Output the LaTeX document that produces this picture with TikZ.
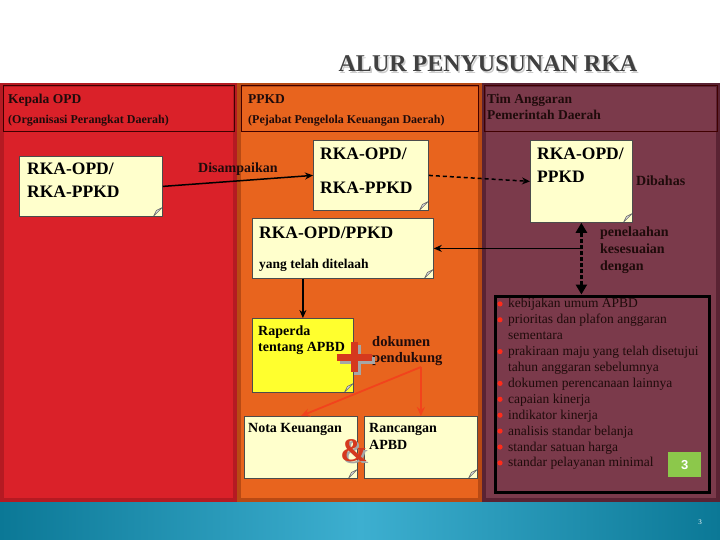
\documentclass[tikz,border=0pt]{standalone}
\usepackage{fontspec}
\setmainfont{Liberation Serif}
\newfontfamily\angkafont{Liberation Sans}
\usetikzlibrary{positioning, arrows.meta, calc}
\newcommand\ukuran[2]{\fontsize{#1}{#2}\selectfont}
\definecolor{merah}{HTML}{DA2129}
\definecolor{merahtua}{HTML}{B51A22}
\definecolor{oranye}{HTML}{E8641E}
\definecolor{oranyetua}{HTML}{B84A14}
\definecolor{marun}{HTML}{7B3A4B}
\definecolor{maruntua}{HTML}{5A2333}
\definecolor{kertas}{HTML}{FFFFCC}
\definecolor{kuning}{HTML}{FFFF2E}
\definecolor{gelap}{HTML}{1F0B0B}
\definecolor{abu}{HTML}{404040}
\definecolor{merahpanah}{HTML}{F2431C}
\definecolor{merahtanda}{HTML}{D5391E}
\definecolor{titikmerah}{HTML}{FF2B1A}
\definecolor{hijau}{HTML}{8CC84B}
\definecolor{biru}{HTML}{0B7896}
\definecolor{birumuda}{HTML}{3DAFD0}
\tikzset{
  kolom/.style={line width=4pt},
  kepala/.style={draw=black!75!red, line width=0.8pt},
  catatan/.style={draw=black!70, line width=0.8pt, fill=kertas, anchor=north west, inner sep=0pt,
    path picture={\filldraw[draw=black!60, fill=black!12, line width=0.5pt]
      ([xshift=-9pt]path picture bounding box.south east) --
      ([yshift=9pt]path picture bounding box.south east) --
      ([xshift=-6pt,yshift=6pt]path picture bounding box.south east) -- cycle;}},
  tulisan/.style={anchor=north west, align=left, inner sep=0pt, font=\bfseries\ukuran{17.5}{23}},
  judulkol/.style={anchor=base west, inner sep=0pt, text=gelap, font=\bfseries\ukuran{13.5}{16}},
  ketkol/.style={judulkol, font=\bfseries\ukuran{12}{14}},
  label/.style={anchor=north west, align=left, inner sep=0pt, text=gelap, font=\bfseries\ukuran{14}{17}},
  butir/.style={anchor=base west, inner sep=0pt, text=gelap, font=\ukuran{13.5}{16}},
  titik/.style={fill=titikmerah},
  wire/.style={-{Stealth[length=8pt,width=7pt]}, line width=1.5pt},
  putus/.style={wire, dash pattern=on 4pt off 3pt},
  telaahwire/.style={{Triangle[length=10pt,width=11pt]}-{Triangle[length=10pt,width=11pt]}, line width=3pt, dash pattern=on 4pt off 2pt},
  panah/.style={-{Stealth[length=9pt,width=8pt]}, line width=1.8pt, draw=merahpanah},
  judul/.style={anchor=base, inner sep=0pt, font=\bfseries\ukuran{24}{28}}
}

\begin{document}
\begin{tikzpicture}[x=1pt, y=-1pt]
  \useasboundingbox (0,0) rectangle (720,540);
  \fill[white] (0,0) rectangle (720,540);
  \node[judul, text=black!20] (judulbayang) at (489.5,73.5) {ALUR PENYUSUNAN RKA};
  \node[judul, text=abu] (judul) at (488,72) {ALUR PENYUSUNAN RKA};

  % tiga kolom
  \filldraw[kolom, fill=merah, draw=merahtua] (2,85) rectangle (235,500);
  \filldraw[kolom, fill=oranye, draw=oranyetua] (239,85) rectangle (480,500);
  \filldraw[kolom, fill=marun, draw=maruntua] (484,85) rectangle (718,500);
  \draw[kepala] (3,85) rectangle (234,131);
  \draw[kepala] (241,85) rectangle (478,131);
  \draw[kepala] (484,85) rectangle (717,131);
  \shade[left color=biru, right color=biru, middle color=birumuda] (0,502) rectangle (720,540);
  \node[font=\ukuran{7}{8}, text=white] (halaman) at (700,522) {3};

  \node[judulkol] (kepalaopd) at (8,104) {Kepala OPD};
  \node[ketkol] (opd) at (8,124) {(Organisasi Perangkat Daerah)};
  \node[judulkol] (ppkd) at (248,104) {PPKD};
  \node[ketkol] (pejabat) at (248,124) {(Pejabat Pengelola Keuangan Daerah)};
  \node[label, font=\bfseries\ukuran{13.5}{16}] (tapd) at (487,94) {Tim Anggaran\\Pemerintah Daerah};

  % kertas catatan
  \node[catatan, minimum width=143pt, minimum height=60pt] (rkaopd) at (19,156) {};
  \node[tulisan] (rkaopdisi) at (27,163) {RKA-OPD/\\RKA-PPKD};
  \node[catatan, minimum width=115pt, minimum height=70pt] (rkappkd) at (313,140) {};
  \node[tulisan, font=\bfseries\ukuran{17.5}{34}] (rkappkdisi) at (320,148) {RKA-OPD/\\RKA-PPKD};
  \node[catatan, minimum width=181pt, minimum height=60pt] (telaah) at (252,218) {};
  \node[tulisan] (telaahisi) at (259,227) {RKA-OPD/PPKD};
  \node[judulkol, text=black] (telaahket) at (259,268) {yang telah ditelaah};
  \node[catatan, minimum width=102pt, minimum height=82pt] (tim) at (530,140) {};
  \node[tulisan] (timisi) at (537,148) {RKA-OPD/\\PPKD};
  \node[catatan, fill=kuning, minimum width=101pt, minimum height=74pt] (raperda) at (252,318) {};
  \node[tulisan, font=\bfseries\ukuran{14}{16}] (raperdaisi) at (258,326) {Raperda\\tentang APBD};
  \node[catatan, minimum width=113pt, minimum height=62pt] (nota) at (244,416) {};
  \node[tulisan, font=\bfseries\ukuran{14}{17}] (notaisi) at (248,423) {Nota Keuangan};
  \node[catatan, minimum width=113pt, minimum height=62pt] (rancangan) at (364,416) {};
  \node[tulisan, font=\bfseries\ukuran{14}{17}] (rancanganisi) at (369,423) {Rancangan\\APBD};

  \node[label] (dibahas) at (636,176) {Dibahas};
  \node[label] (penelaahan) at (600,227) {penelaahan\\kesesuaian\\dengan};
  \node[label, font=\bfseries\ukuran{14.5}{16}] (dokumen) at (372,336) {dokumen\\pendukung};

  % tanda tambah dan dan
  \draw[line width=7pt, black!35] (340,360) -- (375,360) (357,345) -- (357,375);
  \draw[line width=7pt, merahtanda] (337,357) -- (372,357) (354,342) -- (354,372);
  \node[font=\bfseries\ukuran{33}{33}, text=black!35, inner sep=0pt] (danbayang) at (356,453) {\&};
  \node[font=\bfseries\ukuran{33}{33}, text=merahtanda, inner sep=0pt] (dan) at (354,451) {\&};

  % acuan penelaahan
  \node[draw, line width=3pt, minimum width=214pt, minimum height=196pt, anchor=north west, inner sep=0pt] (acuan) at (493.5,294.5) {};
  \foreach \isi [count=\i] in {kebijakan umum APBD, prioritas dan plafon anggaran, sementara,
      prakiraan maju yang telah disetujui, tahun anggaran sebelumnya, dokumen perencanaan lainnya,
      capaian kinerja, indikator kinerja, analisis standar belanja, standar satuan harga,
      standar pelayanan minimal}
    \node[butir] (butir\i) at (508, {292+15.9*\i}) {\isi};
  \foreach \i in {1,2,4,6,7,8,9,10,11}
    \fill[titik] (500, {288+15.9*\i}) circle (2.6pt);
  \node[fill=hijau, minimum width=33pt, minimum height=25pt, anchor=north west, inner sep=0pt,
        text=white, font=\angkafont\bfseries\ukuran{13}{15}] (nomor) at (668,452) {3};

  % alur
  \draw[wire] (rkaopd.east) -- node[above=1pt, text=gelap, font=\bfseries\ukuran{14}{16}] {Disampaikan} (rkappkd.west);
  \draw[putus] (rkappkd.east) -- (tim.west);
  \coordinate (simpang) at (tim.south |- telaah.east);
  \draw[telaahwire] (tim.south |- acuan.north) -- (tim.south);
  \draw[wire] (simpang) -- (telaah.east);
  \draw[wire] (raperda.north |- telaah.south) -- (raperda.north);
  \coordinate (cabang) at (421,367);
  \draw[panah] (cabang) -- (nota.north);
  \draw[panah] (cabang) -- (rancangan.north);
\end{tikzpicture}
\end{document}
